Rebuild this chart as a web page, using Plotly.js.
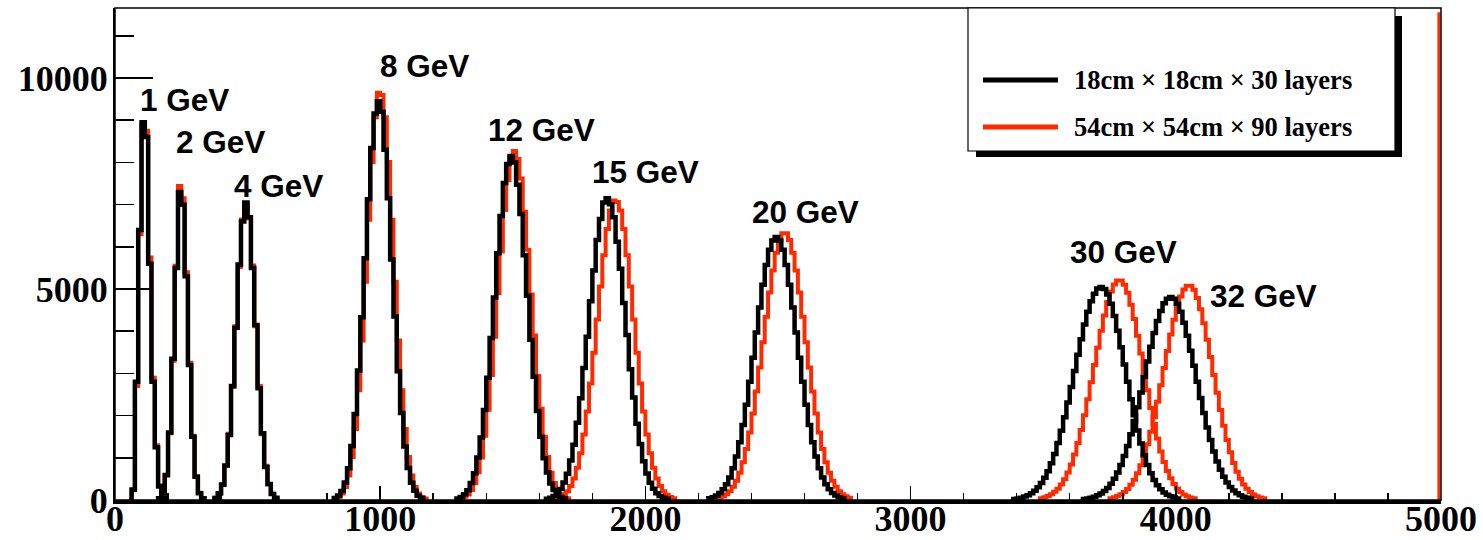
<!DOCTYPE html>
<html>
<head>
<meta charset="utf-8">
<script src="https://cdn.plot.ly/plotly-3.0.1.min.js"></script>
<style>
  html, body { margin: 0; padding: 0; background: #ffffff; }
  #chart { width: 1483px; height: 540px; }
</style>
</head>
<body>
<div id="chart"></div>
<script>
// ---------------- DATA ----------------
const seriesNames = ['18cm \u00d7 18cm \u00d7 30 layers', '54cm \u00d7 54cm \u00d7 90 layers'];
const peakLabels = ['1 GeV', '2 GeV', '4 GeV', '8 GeV', '12 GeV', '15 GeV', '20 GeV', '30 GeV', '32 GeV'];
const binWidth = 12.5;

// lower edge of the first listed bin of each peak
const blackStarts = [62.5, 162.5, 375, 825, 1287.5, 1625, 2237.5, 3387.5, 3650];
const redStarts   = [62.5, 162.5, 375, 825, 1300, 1662.5, 2275, 3487.5, 3750];

// black: 18cm x 18cm x 30 layers
const black1  = [250, 2800, 6400, 8950, 8600, 5600, 2800, 1250, 320, 60];
const black2  = [40, 170, 590, 1600, 3350, 5500, 7300, 7000, 5300, 3200, 1500, 550, 160, 40];
const black4  = [50, 160, 360, 820, 1540, 2700, 4080, 5580, 6600, 7050, 6700, 5500, 4150, 2650, 1580, 780, 380, 140, 55];
const black8  = [48, 105, 215, 415, 750, 1280, 2040, 3070, 4330, 5730, 7130, 8340, 9160, 9450, 9200, 8300, 7150, 5700, 4350, 3050, 2060, 1270, 760, 410, 220, 100, 50];
const black12 = [37, 70, 135, 230, 400, 635, 1010, 1480, 2130, 2900, 3840, 4800, 5850, 6730, 7510, 7960, 8150, 8000, 7470, 6780, 5800, 4840, 3800, 2920, 2110, 1500, 990, 650, 390, 235, 130, 74, 36];
const black15 = [30, 55, 93, 162, 258, 415, 620, 935, 1310, 1830, 2410, 3130, 3870, 4710, 5440, 6160, 6660, 7050, 7150, 7010, 6700, 6120, 5480, 4670, 3910, 3100, 2430, 1810, 1330, 920, 630, 408, 264, 158, 96, 53, 31];
const black20 = [42, 68, 108, 167, 253, 373, 536, 751, 1030, 1370, 1780, 2260, 2800, 3370, 3970, 4560, 5100, 5570, 5930, 6150, 6230, 6150, 5930, 5570, 5100, 4560, 3970, 3370, 2800, 2260, 1780, 1370, 1030, 751, 536, 373, 253, 167, 108, 68, 42];
const black30 = [26, 38, 56, 81, 115, 161, 222, 300, 402, 528, 683, 871, 1090, 1350, 1640, 1960, 2310, 2680, 3060, 3440, 3810, 4160, 4460, 4710, 4890, 5010, 5050, 5000, 4870, 4650, 4360, 4010, 3620, 3210, 2800, 2390, 2010, 1650, 1340, 1060, 827, 633, 475, 350, 254, 180, 126, 86, 58, 38];
const black32 = [25, 37, 53, 77, 110, 153, 211, 286, 383, 503, 651, 829, 1040, 1280, 1560, 1870, 2200, 2550, 2920, 3280, 3630, 3960, 4240, 4480, 4660, 4770, 4810, 4770, 4650, 4460, 4200, 3890, 3540, 3180, 2800, 2420, 2060, 1720, 1420, 1150, 913, 714, 549, 415, 308, 226, 162, 114, 79, 54, 37];

// red: 54cm x 54cm x 90 layers
const red1  = [230, 2700, 6300, 8900, 8750, 5750, 2900, 1300, 350, 70];
const red2  = [40, 160, 580, 1580, 3300, 5550, 7440, 7150, 5400, 3250, 1520, 560, 170, 45];
const red4  = [55, 150, 380, 810, 1570, 2680, 4120, 5520, 6650, 7000, 6680, 5560, 4120, 2700, 1560, 810, 370, 150, 50];
const red8  = [33, 74, 155, 310, 580, 1020, 1680, 2600, 3780, 5170, 6640, 8010, 9070, 9650, 9600, 9070, 8010, 6640, 5170, 3780, 2600, 1680, 1020, 580, 310, 155, 74, 33];
const red12 = [38, 75, 133, 238, 398, 655, 1005, 1520, 2140, 2960, 3870, 4900, 5890, 6870, 7580, 8120, 8270, 8080, 7620, 6830, 5930, 4870, 3900, 2940, 2160, 1500, 1020, 645, 405, 232, 137, 72, 39];
const red15 = [41, 72, 123, 205, 329, 509, 763, 1110, 1550, 2100, 2760, 3490, 4280, 5060, 5800, 6420, 6860, 7100, 7060, 6860, 6420, 5800, 5060, 4280, 3490, 2760, 2100, 1550, 1110, 763, 509, 329, 205, 123, 72, 41];
const red20 = [55, 87, 137, 210, 313, 456, 647, 896, 1210, 1600, 2050, 2570, 3140, 3740, 4340, 4920, 5440, 5860, 6160, 6320, 6320, 6160, 5860, 5440, 4920, 4340, 3740, 3140, 2570, 2050, 1600, 1210, 896, 647, 456, 313, 210, 137, 87, 55];
const red30 = [44, 65, 95, 137, 194, 269, 368, 493, 651, 844, 1080, 1350, 1660, 2010, 2390, 2790, 3200, 3610, 4010, 4370, 4690, 4940, 5110, 5200, 5200, 5100, 4910, 4630, 4290, 3890, 3470, 3030, 2600, 2180, 1800, 1460, 1150, 898, 686, 513, 377, 271, 192, 133, 91, 60, 40];
const red32 = [43, 64, 93, 134, 189, 263, 359, 482, 636, 825, 1050, 1320, 1620, 1960, 2330, 2720, 3130, 3530, 3920, 4270, 4580, 4820, 4990, 5080, 5080, 4980, 4790, 4520, 4190, 3800, 3390, 2960, 2540, 2130, 1760, 1420, 1130, 878, 670, 501, 369, 265, 187, 130, 89, 59, 39];
// red histogram's last (overflowing) bin at the right edge
const redOverflowEdge = 4992;
const redOverflowCount = 11560;

const xTickVals = [0, 1000, 2000, 3000, 4000, 5000];
const yTickVals = [0, 5000, 10000];

const blackCounts = [black1, black2, black4, black8, black12, black15, black20, black30, black32];
const redCounts   = [red1, red2, red4, red8, red12, red15, red20, red30, red32];

// ---------------- BUILD ----------------
function histXY(start, counts) {
  const x = [start], y = [0];
  for (let i = 0; i < counts.length; i++) { x.push(start + i * binWidth); y.push(counts[i]); }
  x.push(start + counts.length * binWidth); y.push(0);
  return {x, y};
}

const BLACK = '#000000';
const RED = '#ff2a00';
const traces = [];
redCounts.forEach((c, i) => {
  const h = histXY(redStarts[i], c);
  traces.push({type: 'scatter', mode: 'lines', x: h.x, y: h.y, name: seriesNames[1] + ' ' + peakLabels[i],
    line: {color: RED, width: 4, shape: 'hv'}, showlegend: false, hoverinfo: 'skip'});
});
traces.push({type: 'scatter', mode: 'lines', x: [redOverflowEdge, redOverflowEdge], y: [0, redOverflowCount],
  line: {color: RED, width: 3}, showlegend: false, hoverinfo: 'skip'});
blackCounts.forEach((c, i) => {
  const h = histXY(blackStarts[i], c);
  traces.push({type: 'scatter', mode: 'lines', x: h.x, y: h.y, name: seriesNames[0] + ' ' + peakLabels[i],
    line: {color: BLACK, width: 4.5, shape: 'hv'}, showlegend: false, hoverinfo: 'skip'});
});

// plot-area geometry (pixels) for layout decorations
const L = 115, R = 1441, T = 8, B = 500;
const px = v => (v - L) / (R - L);
const py = v => (B - v) / (B - T);

// peak label anchor positions (pixels: left edge, vertical centre)
const labelPix = [[138, 100], [174, 142], [232, 186], [378, 66], [486, 130], [590, 172], [750, 212], [1068, 252], [1208, 296]];
const annotations = peakLabels.map((t, i) => ({
  text: t, xref: 'paper', yref: 'paper', x: px(labelPix[i][0]), y: py(labelPix[i][1]),
  xanchor: 'left', yanchor: 'middle', showarrow: false,
  font: {family: 'Liberation Sans, Arial, sans-serif', size: 31.5, weight: 'bold', color: BLACK}
}));
// legend texts
annotations.push({text: seriesNames[0], xref: 'paper', yref: 'paper', x: px(1072), y: py(80),
  xanchor: 'left', yanchor: 'middle', showarrow: false,
  font: {family: 'Liberation Serif, Times New Roman, serif', size: 26.5, weight: 'bold', color: BLACK}});
annotations.push({text: seriesNames[1], xref: 'paper', yref: 'paper', x: px(1072), y: py(127),
  xanchor: 'left', yanchor: 'middle', showarrow: false,
  font: {family: 'Liberation Serif, Times New Roman, serif', size: 26.5, weight: 'bold', color: BLACK}});

const shapes = [
  // frame
  {type: 'rect', xref: 'paper', yref: 'paper', x0: 0, x1: 1, y0: 0, y1: 1, line: {color: BLACK, width: 1.5}, layer: 'above'},
  // legend shadow
  {type: 'rect', xref: 'paper', yref: 'paper', x0: px(976), x1: px(1402), y0: py(157), y1: py(16),
   fillcolor: BLACK, line: {width: 0}, layer: 'above'},
  // legend box
  {type: 'rect', xref: 'paper', yref: 'paper', x0: px(968), x1: px(1395), y0: py(151), y1: py(8),
   fillcolor: '#ffffff', line: {color: BLACK, width: 1.2}, layer: 'above'},
  // legend samples
  {type: 'line', xref: 'paper', yref: 'paper', x0: px(983), x1: px(1058), y0: py(80), y1: py(80),
   line: {color: BLACK, width: 5}, layer: 'above'},
  {type: 'line', xref: 'paper', yref: 'paper', x0: px(983), x1: px(1058), y0: py(127), y1: py(127),
   line: {color: RED, width: 5}, layer: 'above'}
];

const tickFont = {family: 'Liberation Serif, Times New Roman, serif', size: 36, weight: 'bold', color: BLACK};

const layout = {
  width: 1483, height: 540,
  margin: {l: L, r: 1483 - R, t: T, b: 540 - B, pad: 0},
  paper_bgcolor: '#ffffff', plot_bgcolor: '#ffffff',
  showlegend: false,
  xaxis: {
    range: [0, 5000], showgrid: false, zeroline: false,
    showline: true, linecolor: BLACK, linewidth: 4,
    tickmode: 'array', tickvals: xTickVals, ticktext: xTickVals.map(String),
    ticks: 'inside', ticklen: 14, tickwidth: 1.5, tickcolor: BLACK,
    minor: {dtick: 200, tick0: 0, ticks: 'inside', ticklen: 7, tickwidth: 1.5, tickcolor: BLACK, showgrid: false},
    tickfont: tickFont, ticklabelstandoff: -16
  },
  yaxis: {
    range: [0, 11660], showgrid: false, zeroline: false,
    showline: true, linecolor: BLACK, linewidth: 2,
    tickmode: 'array', tickvals: yTickVals, ticktext: yTickVals.map(String),
    ticks: 'inside', ticklen: 38, tickwidth: 1.5, tickcolor: BLACK,
    minor: {dtick: 1000, tick0: 0, ticks: 'inside', ticklen: 19, tickwidth: 1.5, tickcolor: BLACK, showgrid: false},
    tickfont: tickFont, ticklabelstandoff: -2
  },
  annotations, shapes
};

Plotly.newPlot('chart', traces, layout, {staticPlot: true, displayModeBar: false});
</script>
</body>
</html>
